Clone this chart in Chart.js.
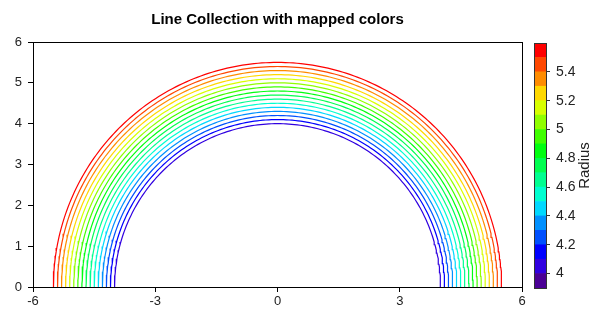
<!DOCTYPE html>
<html>
<head>
<meta charset="utf-8">
<script src="https://cdn.jsdelivr.net/npm/chart.js@4"></script>
<style>
html, body { margin: 0; padding: 0; background: #fff; }
#wrap { position: relative; width: 600px; height: 319px; }
#main { position: absolute; left: 0; top: 0; }
#bar { position: absolute; left: 524px; top: 0; }
</style>
</head>
<body>
<div id="wrap">
  <canvas id="main" width="600" height="319"></canvas>
  <canvas id="bar" width="76" height="319"></canvas>
</div>
<script>
// radii of the semicircles (one line each)
const radii = [4.0, 4.1, 4.2, 4.3, 4.4, 4.5, 4.6, 4.7, 4.8, 4.9, 5.0, 5.1, 5.2, 5.3, 5.4, 5.5];

// colorbar band edges and colours, bottom to top
const bandEdges = [3.9, 4.0, 4.1, 4.2, 4.3, 4.4, 4.5, 4.6, 4.7, 4.8, 4.9, 5.0, 5.1, 5.2, 5.3, 5.4, 5.5, 5.6];
const bandColors = [
  '#4b0095', '#3000e0', '#0000ff', '#0050ff', '#0090ff', '#00d8ff',
  '#00ffd0', '#00ff90', '#00ff50', '#00ff10', '#40ff00', '#90ff00',
  '#d8ff00', '#ffd800', '#ff8c00', '#ff4800', '#ff0000'
];

const xTicks = [-6, -3, 0, 3, 6];
const yTicks = [0, 1, 2, 3, 4, 5, 6];
const barTicks = [4, 4.2, 4.4, 4.6, 4.8, 5, 5.2, 5.4];

const FONT = 'Liberation Sans, Arial, sans-serif';

function colorFor(r) {
  for (let i = 0; i < bandColors.length; i++) {
    if (r >= bandEdges[i] - 1e-9 && r < bandEdges[i + 1] - 1e-9) return bandColors[i];
  }
  return bandColors[bandColors.length - 1];
}

// points along a half circle of radius r
function arc(r) {
  const pts = [];
  for (let i = 0; i <= 180; i++) {
    const a = Math.PI * i / 180;
    pts.push({ x: r * Math.cos(a), y: r * Math.sin(a) });
  }
  return pts;
}

// box round the plot area, plus optional title / rotated label
const frame = {
  id: 'frame',
  afterDraw(chart) {
    const a = chart.chartArea, ctx = chart.ctx, o = chart.options.plugins.frame;
    ctx.save();
    ctx.strokeStyle = o.color;
    ctx.lineWidth = 1;
    ctx.strokeRect(Math.round(a.left) + 0.5, Math.round(a.top) + 0.5,
      Math.round(a.right - a.left), Math.round(a.bottom - a.top));
    ctx.textAlign = 'center';
    ctx.textBaseline = 'middle';
    if (o.title) {
      ctx.fillStyle = '#000';
      ctx.font = 'bold 15px ' + FONT;
      ctx.fillText(o.title, (a.left + a.right) / 2, 20);
    }
    if (o.label) {
      // colorbar label, reading bottom to top
      ctx.translate(61, (a.top + a.bottom) / 2);
      ctx.rotate(-Math.PI / 2);
      ctx.fillStyle = '#222';
      ctx.font = '15px ' + FONT;
      ctx.fillText(o.label, 0, 0);
    }
    ctx.restore();
  }
};

new Chart(document.getElementById('main'), {
  type: 'scatter',
  data: {
    datasets: radii.map(r => ({
      data: arc(r),
      showLine: true,
      borderColor: colorFor(r),
      borderWidth: 1.2,
      pointRadius: 0,
      fill: false
    }))
  },
  options: {
    responsive: false,
    animation: false,
    layout: { padding: { left: 0, right: 78, top: 42, bottom: 0 } },
    plugins: {
      legend: { display: false },
      tooltip: { enabled: false },
      frame: { color: '#000', title: 'Line Collection with mapped colors' }
    },
    scales: {
      x: {
        type: 'linear', min: -6, max: 6,
        afterBuildTicks: s => { s.ticks = xTicks.map(v => ({ value: v })); },
        afterFit: s => { s.height = 32; },
        ticks: { color: '#222', font: { family: FONT, size: 13 }, padding: 2 },
        grid: { drawOnChartArea: false, tickLength: 5, color: '#000' },
        border: { color: '#000' }
      },
      y: {
        type: 'linear', min: 0, max: 6,
        afterBuildTicks: s => { s.ticks = yTicks.map(v => ({ value: v })); },
        afterFit: s => { s.width = 33; },
        ticks: { color: '#222', font: { family: FONT, size: 13 }, padding: 6 },
        grid: { drawOnChartArea: false, tickLength: 5, color: '#000' },
        border: { color: '#000' }
      }
    }
  },
  plugins: [frame]
});

new Chart(document.getElementById('bar'), {
  type: 'bar',
  data: {
    labels: ['Radius'],
    datasets: bandColors.map((c, i) => ({
      data: [[bandEdges[i], bandEdges[i + 1]]],
      backgroundColor: c,
      borderWidth: 0,
      barPercentage: 1,
      categoryPercentage: 1,
      grouped: false
    }))
  },
  options: {
    responsive: false,
    animation: false,
    layout: { padding: { left: 10, top: 43, bottom: 31, right: 0 } },
    plugins: {
      legend: { display: false },
      tooltip: { enabled: false },
      frame: { color: '#333', label: 'Radius' }
    },
    scales: {
      x: { display: false },
      y: {
        type: 'linear', position: 'right', min: 3.9, max: 5.6,
        afterBuildTicks: s => { s.ticks = barTicks.map(v => ({ value: v })); },
        afterFit: s => { s.width = 54; },
        ticks: {
          color: '#222', font: { family: FONT, size: 14 }, padding: 6,
          callback: v => String(+v.toFixed(1))
        },
        grid: { drawOnChartArea: false, tickLength: 4, color: '#333' },
        border: { display: false }
      }
    }
  },
  plugins: [frame]
});
</script>
</body>
</html>
